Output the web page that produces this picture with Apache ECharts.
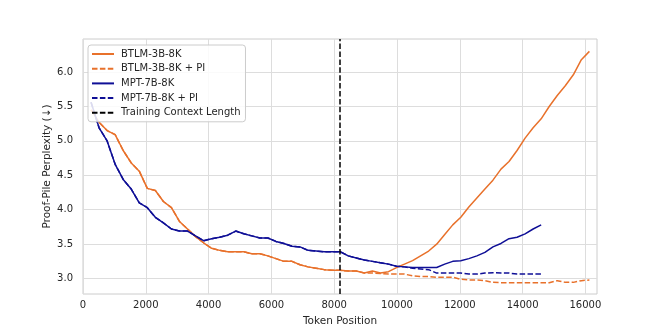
<!DOCTYPE html>
<html><head><meta charset="utf-8">
<script src="https://cdn.jsdelivr.net/npm/echarts@6/dist/echarts.min.js"></script>
<style>html,body{margin:0;padding:0;background:#fff}#c{width:664px;height:332px}</style>
</head><body><div id="c"></div>
<script>
const tokenPositions = [256,512,768,1024,1280,1536,1792,2048,2304,2560,2816,3072,3328,3584,3840,4096,4352,4608,4864,5120,5376,5632,5888,6144,6400,6656,6912,7168,7424,7680,7936,8192,8448,8704,8960,9216,9472,9728,9984,10240,10496,10752,11008,11264,11520,11776,12032,12288,12544,12800,13056,13312,13568,13824,14080,14336,14592,14848,15104,15360,15616,15872,16128];

const btlm = [5.45,5.27,5.15,5.09,4.86,4.68,4.56,4.31,4.28,4.12,4.03,3.83,3.72,3.61,3.52,3.44,3.41,3.39,3.39,3.39,3.36,3.36,3.33,3.29,3.25,3.25,3.20,3.17,3.15,3.13,3.12,3.12,3.11,3.11,3.08,3.11,3.08,3.10,3.16,3.21,3.26,3.33,3.40,3.50,3.64,3.78,3.89,4.04,4.17,4.30,4.43,4.59,4.70,4.86,5.04,5.19,5.32,5.50,5.66,5.80,5.96,6.18,6.30];

const btlmPI = [5.45,5.27,5.15,5.09,4.86,4.68,4.56,4.31,4.28,4.12,4.03,3.83,3.72,3.61,3.52,3.44,3.41,3.39,3.39,3.39,3.36,3.36,3.33,3.29,3.25,3.25,3.20,3.17,3.15,3.13,3.12,3.12,3.11,3.11,3.08,3.08,3.075,3.065,3.065,3.065,3.04,3.03,3.03,3.02,3.02,3.02,2.99,2.98,2.98,2.97,2.945,2.94,2.94,2.94,2.94,2.94,2.94,2.94,2.97,2.945,2.945,2.97,2.98];

const mpt = [5.56,5.19,5.00,4.66,4.44,4.30,4.10,4.03,3.89,3.81,3.72,3.69,3.69,3.62,3.55,3.58,3.60,3.63,3.69,3.65,3.62,3.59,3.59,3.54,3.51,3.47,3.46,3.41,3.40,3.39,3.39,3.39,3.33,3.30,3.27,3.25,3.23,3.21,3.18,3.17,3.16,3.16,3.16,3.16,3.21,3.25,3.26,3.29,3.33,3.38,3.46,3.51,3.58,3.60,3.65,3.72,3.78,null,null,null,null,null,null];

const mptPI = [5.56,5.19,5.00,4.66,4.44,4.30,4.10,4.03,3.89,3.81,3.72,3.69,3.69,3.62,3.55,3.58,3.60,3.63,3.69,3.65,3.62,3.59,3.59,3.54,3.51,3.47,3.46,3.41,3.40,3.39,3.39,3.39,3.33,3.30,3.27,3.25,3.23,3.21,3.18,3.17,3.15,3.14,3.13,3.08,3.08,3.08,3.08,3.065,3.065,3.08,3.085,3.08,3.08,3.065,3.065,3.065,3.065,null,null,null,null,null,null];

const trainingContextLength = 8192;
const seriesNames = ['BTLM-3B-8K','BTLM-3B-8K + PI','MPT-7B-8K','MPT-7B-8K + PI','Training Context Length'];
const xTicks = [0,2000,4000,6000,8000,10000,12000,14000,16000];
const yTicks = [3.0,3.5,4.0,4.5,5.0,5.5,6.0];
const xTitle = 'Token Position';
const yTitle = 'Proof-Pile Perplexity (\u2193)';

const ORANGE = '#e8712b';
const BLUE = '#0f0f96';
const FONT = 'DejaVu Sans';
const TXT = '#262626';
const DASH = [5.5, 2.4];

function pairs(vals){
  const out = [];
  tokenPositions.forEach((x,i)=>{ if (vals[i] != null) out.push([x, vals[i]]); });
  return out;
}
function lineSeries(name, vals, color, dashed){
  return {
    name, type:'line', data: pairs(vals), showSymbol:false, symbol:'none', smooth:false,
    animation:false,
    lineStyle:{color, width:1.5, type: dashed ? DASH : 'solid'},
    itemStyle:{color}
  };
}

const chart = echarts.init(document.getElementById('c'), null, {renderer:'canvas'});
chart.setOption({
  animation:false,
  backgroundColor:'#ffffff',
  textStyle:{fontFamily:FONT},
  grid:{left:83, right:67, top:39, bottom:37, show:true, borderColor:'#cccccc', borderWidth:1, backgroundColor:'transparent'},
  legend:{
    show:true, orient:'vertical', left:88, top:45,
    data: seriesNames,
    itemWidth:22, itemHeight:10, itemGap:2.7,
    padding:[3,5,3,3],
    backgroundColor:'rgba(255,255,255,0.85)', borderColor:'#cccccc', borderWidth:1, borderRadius:3,
    textStyle:{fontFamily:FONT, fontSize:10, color:TXT, lineHeight:12, padding:[0,0,0,2]},
    itemStyle:{color:'rgba(0,0,0,0)', borderColor:'rgba(0,0,0,0)', borderWidth:0, opacity:0}
  },
  xAxis:{
    type:'value', min:0, max:16370,
    name:xTitle, nameLocation:'middle', nameGap:22, nameMoveOverlap:false,
    nameTextStyle:{fontFamily:FONT, fontSize:10.5, color:TXT},
    axisLine:{show:false}, axisTick:{show:false, customValues:xTicks},
    axisLabel:{customValues:xTicks, fontFamily:FONT, fontSize:10, color:TXT, margin:6, formatter:v=>String(v)},
    splitLine:{show:true, lineStyle:{color:'#dddddd', width:1}}
  },
  yAxis:{
    type:'value', min:2.776, max:6.48,
    name:yTitle, nameLocation:'middle', nameGap:30, nameRotate:90, nameMoveOverlap:false,
    nameTextStyle:{fontFamily:FONT, fontSize:10.5, color:TXT},
    axisLine:{show:false}, axisTick:{show:false, customValues:yTicks},
    axisLabel:{customValues:yTicks, fontFamily:FONT, fontSize:10, color:TXT, margin:10, formatter:v=>v.toFixed(1)},
    splitLine:{show:true, lineStyle:{color:'#dddddd', width:1}}
  },
  series:[
    lineSeries(seriesNames[0], btlm, ORANGE, false),
    lineSeries(seriesNames[1], btlmPI, ORANGE, true),
    lineSeries(seriesNames[2], mpt, BLUE, false),
    lineSeries(seriesNames[3], mptPI, BLUE, true),
    {
      name:seriesNames[4], type:'line', data:[], symbol:'none',
      lineStyle:{color:'#000000', width:1.5, type:DASH}, itemStyle:{color:'#000000'},
      markLine:{silent:true, symbol:['none','none'], label:{show:false},
        lineStyle:{color:'#000000', width:1.5, type:DASH},
        data:[{xAxis:trainingContextLength}]}
    }
  ]
});
</script></body></html>
